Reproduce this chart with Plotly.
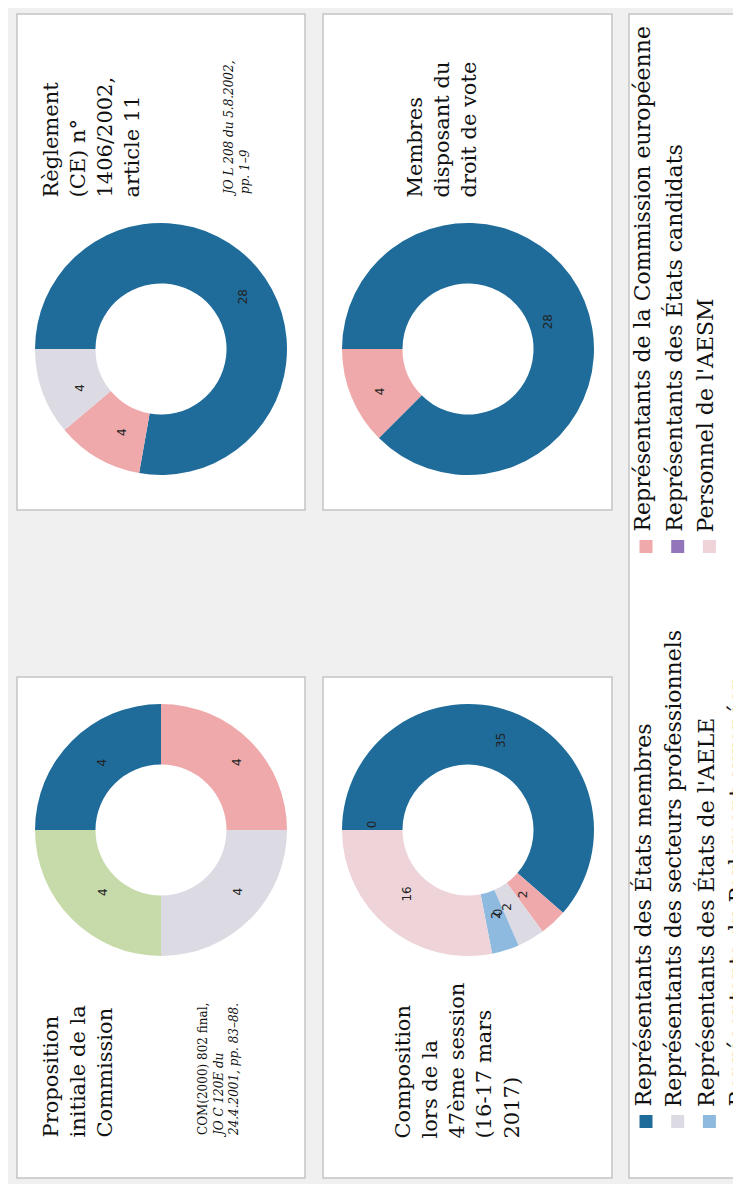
import math
import plotly.graph_objects as go

W, H = 741, 1184

# categories (legend order) and colours
categories = [
    "Représentants des États membres",
    "Représentants des secteurs professionnels",
    "Représentants des États de l'AELE",
    "Représentants du Parlement européen",
    "Représentants de la Commission européenne",
    "Représentants des États candidats",
    "Personnel de l'AESM",
]
colors = {
    "Représentants des États membres": "#1f6c9b",
    "Représentants des secteurs professionnels": "#dcdae3",
    "Représentants des États de l'AELE": "#8fbadf",
    "Représentants du Parlement européen": "#f8ccb0",
    "Représentants de la Commission européenne": "#f0a9ab",
    "Représentants des États candidats": "#9275bb",
    "Personnel de l'AESM": "#eed4d8",
}

# slice order (clockwise) for each donut
prop_labels = ["Représentants des États membres", "Représentants de la Commission européenne",
               "Représentants des secteurs professionnels", "Représentants du Parlement européen"]
prop_values = [4, 4, 4, 4]
prop_colors = ["#1f6c9b", "#f0a9ab", "#dcdae3", "#c6dba9"]

regl_labels = ["Représentants des États membres", "Représentants de la Commission européenne",
               "Représentants des secteurs professionnels"]
regl_values = [28, 4, 4]

compo_labels = ["Représentants des États membres", "Représentants de la Commission européenne",
                "Représentants des secteurs professionnels", "Représentants du Parlement européen",
                "Représentants des États de l'AELE", "Personnel de l'AESM",
                "Représentants des États candidats"]
compo_values = [35, 2, 2, 0, 2, 16, 0]

vote_labels = ["Représentants des États membres", "Représentants de la Commission européenne"]
vote_values = [28, 4]

SERIF = "DejaVu Serif"


def px(x):
    return x / W


def py(y):
    return 1 - y / H


fig = go.Figure()
shapes = []
annotations = []

# panels: (x0, y0, x1, y1) in pixels
panels = [(9, 6, 297, 502), (315, 6, 604, 502), (9, 669, 297, 1170), (315, 669, 604, 1170)]
for x0, y0, x1, y1 in panels:
    shapes.append(dict(type="rect", xref="paper", yref="paper",
                       x0=px(x0), x1=px(x1), y0=py(y1), y1=py(y0),
                       fillcolor="white", line=dict(color="#c4c4c4", width=1.5), layer="below"))
shapes.append(dict(type="rect", xref="paper", yref="paper",
                   x0=px(621), x1=px(760), y0=py(1170), y1=py(6),
                   fillcolor="white", line=dict(color="#c4c4c4", width=1.5), layer="below"))

R = 126
HOLE = 0.52


def donut(labels, values, cols, cx, cy):
    fig.add_trace(go.Pie(
        labels=labels, values=values, sort=False, direction="clockwise", rotation=270,
        hole=HOLE, marker=dict(colors=cols, line=dict(width=0)),
        textinfo="none", showlegend=False,
        domain=dict(x=[px(cx - R), px(cx + R)], y=[py(cy + R), py(cy - R)]),
    ))
    total = sum(values)
    acc = 0
    rl = R * (1 + HOLE) / 2
    for v in values:
        mid = 270 + (acc + v / 2) / total * 360
        acc += v
        t = math.radians(mid)
        annotations.append(dict(
            x=px(cx + rl * math.sin(t)), y=py(cy - rl * math.cos(t)),
            xref="paper", yref="paper", text=str(v), showarrow=False, textangle=-90,
            font=dict(family="DejaVu Sans", size=12, color="#222")))


donut(regl_labels, regl_values, [colors[l] for l in regl_labels], 153, 341)
donut(vote_labels, vote_values, [colors[l] for l in vote_labels], 460, 341)
donut(prop_labels, prop_values, prop_colors, 153, 822)
donut(compo_labels, compo_values, [colors[l] for l in compo_labels], 460, 822)


def text(x, y, s, size, **kw):
    annotations.append(dict(
        x=px(x), y=py(y), xref="paper", yref="paper", text=s, showarrow=False,
        textangle=-90, xanchor="left", yanchor="bottom", align="left",
        font=dict(family=SERIF, size=size, color="#111"), **kw))


text(28, 192, "Règlement<br>(CE) n°<br>1406/2002,<br>article 11", 21)
text(212, 191, "<i>JO L 208 du 5.8.2002,<br>pp. 1–9</i>", 12)
text(392, 192, "Membres<br>disposant du<br>droit de vote", 21)
text(28, 1132, "Proposition<br>initiale de la<br>Commission", 21)
text(186, 1132, "COM(2000) 802 final,<br><i>JO C 120E du<br>24.4.2001, pp. 83–88.</i>", 12)
text(380, 1132, "Composition<br>lors de la<br>47ème session<br>(16-17 mars<br>2017)", 21)

# legend: two columns of entries
leg_cols = [categories[:4], categories[4:]]
leg_bottom = [1120, 545]
for col, yb in zip(leg_cols, leg_bottom):
    for i, name in enumerate(col):
        xc = 638 + i * 31.7
        shapes.append(dict(type="rect", xref="paper", yref="paper",
                           x0=px(xc - 6.5), x1=px(xc + 6.5), y0=py(yb), y1=py(yb - 13),
                           fillcolor=colors[name], line=dict(width=0)))
        annotations.append(dict(
            x=px(xc - 4), y=py(yb - 19), xref="paper", yref="paper", text=name,
            showarrow=False, textangle=-90, xanchor="center", yanchor="bottom",
            font=dict(family=SERIF, size=22, color="#111")))

fig.update_layout(
    width=W, height=H,
    margin=dict(l=0, r=0, t=0, b=0),
    paper_bgcolor="#f0f0f0",
    plot_bgcolor="#f0f0f0",
    shapes=shapes,
    annotations=annotations,
)

fig.write_html("out.html")
